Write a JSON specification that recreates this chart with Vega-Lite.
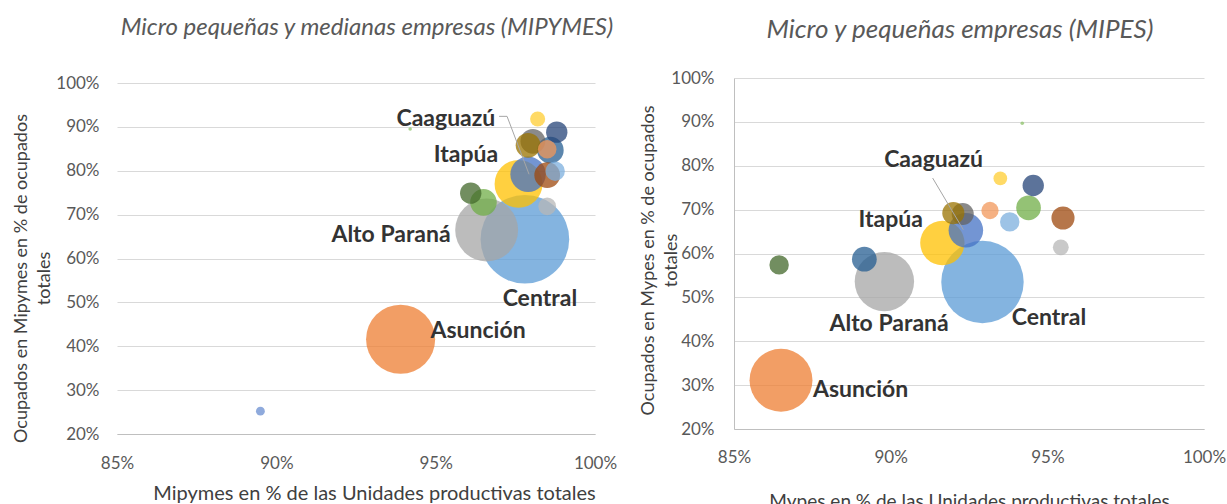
{
  "$schema": "https://vega.github.io/schema/vega-lite/v6.json",
  "padding": {"left": 12, "top": 16, "right": 0, "bottom": 0},
  "background": "white",
  "spacing": 22,
  "config": {
    "font": "Lato",
    "view": {"stroke": null},
    "axis": {
      "labelFont": "Lato", "labelFontSize": 17, "labelColor": "#595959", "labelFlush": false,
      "titleFont": "Lato", "titleFontSize": 18, "titleFontWeight": "normal", "titleColor": "#404040",
      "ticks": false, "domainColor": "#BFBFBF", "gridColor": "#D9D9D9", "labelPadding": 18
    },
    "title": {"font": "Lato", "fontSize": 24, "fontStyle": "italic", "fontWeight": "normal", "color": "#595959", "anchor": "middle"}
  },
  "datasets": {
    "mipymes": [
      {"depto": "Central", "x": 97.8, "y": 64.4, "ocupados": 1000, "orden": 1},
      {"depto": "Asunción", "x": 93.9, "y": 41.6, "ocupados": 608, "orden": 2},
      {"depto": "Alto Paraná", "x": 96.6, "y": 66.5, "ocupados": 504, "orden": 3},
      {"depto": "Itapúa", "x": 97.6, "y": 77.0, "ocupados": 292, "orden": 4},
      {"depto": "Caaguazú", "x": 97.9, "y": 79.2, "ocupados": 160, "orden": 5},
      {"depto": "San Pedro", "x": 96.5, "y": 72.8, "ocupados": 90, "orden": 6},
      {"depto": "Cordillera", "x": 98.6, "y": 84.7, "ocupados": 90, "orden": 7},
      {"depto": "Paraguarí", "x": 98.5, "y": 79.0, "ocupados": 84, "orden": 8},
      {"depto": "Concepción", "x": 98.05, "y": 86.7, "ocupados": 78, "orden": 9},
      {"depto": "Canindeyú", "x": 97.9, "y": 85.8, "ocupados": 78, "orden": 10},
      {"depto": "Amambay", "x": 98.8, "y": 88.8, "ocupados": 58, "orden": 11},
      {"depto": "Guairá", "x": 96.1, "y": 74.9, "ocupados": 58, "orden": 12},
      {"depto": "Caazapá", "x": 98.75, "y": 79.9, "ocupados": 48, "orden": 13},
      {"depto": "Presidente Hayes", "x": 98.5, "y": 84.9, "ocupados": 44, "orden": 14},
      {"depto": "Misiones", "x": 98.5, "y": 71.9, "ocupados": 40, "orden": 15},
      {"depto": "Ñeembucú", "x": 98.2, "y": 91.8, "ocupados": 29, "orden": 16},
      {"depto": "Boquerón", "x": 89.5, "y": 25.2, "ocupados": 10, "orden": 17},
      {"depto": "Alto Paraguay", "x": 94.2, "y": 89.5, "ocupados": 1.6, "orden": 18}
    ],
    "mipes": [
      {"depto": "Central", "x": 92.93, "y": 53.5, "ocupados": 865, "orden": 1},
      {"depto": "Asunción", "x": 86.5, "y": 31.1, "ocupados": 504, "orden": 2},
      {"depto": "Alto Paraná", "x": 89.8, "y": 53.6, "ocupados": 449, "orden": 3},
      {"depto": "Itapúa", "x": 91.65, "y": 62.4, "ocupados": 250, "orden": 4},
      {"depto": "Caaguazú", "x": 92.4, "y": 65.3, "ocupados": 152, "orden": 5},
      {"depto": "San Pedro", "x": 94.4, "y": 70.4, "ocupados": 78, "orden": 6},
      {"depto": "Cordillera", "x": 89.16, "y": 58.7, "ocupados": 78, "orden": 7},
      {"depto": "Paraguarí", "x": 95.5, "y": 68.1, "ocupados": 68, "orden": 8},
      {"depto": "Concepción", "x": 92.3, "y": 69.0, "ocupados": 62, "orden": 9},
      {"depto": "Canindeyú", "x": 92.0, "y": 69.2, "ocupados": 62, "orden": 10},
      {"depto": "Amambay", "x": 94.55, "y": 75.5, "ocupados": 58, "orden": 11},
      {"depto": "Guairá", "x": 86.44, "y": 57.4, "ocupados": 48, "orden": 12},
      {"depto": "Caazapá", "x": 93.8, "y": 67.2, "ocupados": 48, "orden": 13},
      {"depto": "Presidente Hayes", "x": 93.17, "y": 69.8, "ocupados": 38, "orden": 14},
      {"depto": "Misiones", "x": 95.43, "y": 61.4, "ocupados": 32, "orden": 15},
      {"depto": "Ñeembucú", "x": 93.5, "y": 77.1, "ocupados": 24, "orden": 16},
      {"depto": "Alto Paraguay", "x": 94.2, "y": 89.7, "ocupados": 1.6, "orden": 18}
    ],
    "etq_mipymes": [
      {"texto": "Caaguazú", "x": 95.32, "y": 91.75},
      {"texto": "Itapúa", "x": 95.95, "y": 83.55},
      {"texto": "Alto Paraná", "x": 93.6, "y": 65.3},
      {"texto": "Central", "x": 98.27, "y": 50.75},
      {"texto": "Asunción", "x": 96.33, "y": 43.5}
    ],
    "etq_mipes": [
      {"texto": "Caaguazú", "x": 91.37, "y": 81.2},
      {"texto": "Itapúa", "x": 90.0, "y": 67.7},
      {"texto": "Alto Paraná", "x": 89.95, "y": 44.0},
      {"texto": "Central", "x": 95.05, "y": 45.3},
      {"texto": "Asunción", "x": 89.04, "y": 29.0}
    ],
    "guia_mipymes": [
      {"x": 96.99, "y": 92.4, "o": 1},
      {"x": 97.24, "y": 92.4, "o": 2},
      {"x": 97.93, "y": 79.2, "o": 3}
    ],
    "guia_mipes": [
      {"x": 91.34, "y": 77.2, "o": 1},
      {"x": 92.32, "y": 65.4, "o": 2}
    ]
  },
  "hconcat": [
    {
      "width": 478, "height": 356,
      "title": {"text": "Micro pequeñas y medianas empresas (MIPYMES)", "offset": 34, "dx": 11},
      "layer": [
        {
          "mark": {"type": "rule", "color": "#BFBFBF", "strokeWidth": 1},
          "encoding": {
            "x": {"datum": 85, "type": "quantitative"},
            "y": {"datum": 20, "type": "quantitative"},
            "y2": {"datum": 100}
          }
        },
        {
          "data": {"name": "mipymes"},
          "mark": {"type": "point", "shape": "circle", "filled": true, "opacity": 0.75, "strokeWidth": 0},
          "encoding": {
            "x": {"field": "x", "type": "quantitative", "scale": {"domain": [85, 100], "nice": false, "zero": false},
                  "axis": {"values": [85, 90, 95, 100], "labelExpr": "datum.value + '%'", "grid": false, "labelPadding": 21, "title": "Mipymes  en % de las Unidades productivas totales", "titleFontSize": 20, "titlePadding": 12, "titleX": 257}},
            "y": {"field": "y", "type": "quantitative", "scale": {"domain": [20, 101.14], "nice": false, "zero": false},
                  "axis": {"values": [20, 30, 40, 50, 60, 70, 80, 90, 100], "labelExpr": "datum.value + '%'", "grid": true, "domain": false, "title": ["Ocupados en Mipymes en % de ocupados", "totales"], "titleLineHeight": 23, "titlePadding": 2, "titleY": 200}},
            "size": {"field": "ocupados", "type": "quantitative", "scale": {"type": "linear", "domain": [0, 1000], "range": [0, 7854], "zero": true}, "legend": null},
            "color": {"field": "depto", "type": "nominal", "legend": null,
              "scale": {"domain": ["Central", "Asunción", "Alto Paraná", "Itapúa", "Caaguazú", "San Pedro", "Cordillera", "Paraguarí", "Concepción", "Canindeyú", "Amambay", "Guairá", "Caazapá", "Presidente Hayes", "Misiones", "Ñeembucú", "Boquerón", "Alto Paraguay"],
                        "range": ["#5B9BD5", "#ED7D31", "#A5A5A5", "#FFC000", "#4472C4", "#70AD47", "#255E91", "#9E480E", "#636363", "#997300", "#264478", "#43682B", "#7CAFDD", "#F1975A", "#B7B7B7", "#FFCD33", "#698ED0", "#8CC168"]}},
            "order": {"field": "orden", "type": "quantitative"}
          }
        },
        {
          "data": {"name": "guia_mipymes"},
          "mark": {"type": "line", "color": "#A6A6A6", "strokeWidth": 1},
          "encoding": {
            "x": {"field": "x", "type": "quantitative"},
            "y": {"field": "y", "type": "quantitative"},
            "order": {"field": "o", "type": "quantitative"}
          }
        },
        {
          "data": {"name": "etq_mipymes"},
          "mark": {"type": "text", "font": "Lato", "fontSize": 23, "fontWeight": "bold", "color": "#333333", "baseline": "middle", "align": "center"},
          "encoding": {
            "x": {"field": "x", "type": "quantitative"},
            "y": {"field": "y", "type": "quantitative"},
            "text": {"field": "texto", "type": "nominal"}
          }
        }
      ]
    },
    {
      "width": 470, "height": 351,
      "title": {"text": "Micro y pequeñas empresas (MIPES)", "offset": 26, "dx": -9, "fontSize": 26},
      "layer": [
        {
          "data": {"name": "mipes"},
          "mark": {"type": "point", "shape": "circle", "filled": true, "opacity": 0.75, "strokeWidth": 0},
          "encoding": {
            "x": {"field": "x", "type": "quantitative", "scale": {"domain": [85, 100], "nice": false, "zero": false},
                  "axis": {"values": [85, 90, 95, 100], "labelExpr": "datum.value + '%'", "grid": false, "title": "Mypes en % de las Unidades productivas totales", "titleFontSize": 19, "titlePadding": 27, "labelPadding": 20}},
            "y": {"field": "y", "type": "quantitative", "scale": {"domain": [20, 100], "nice": false, "zero": false},
                  "axis": {"values": [20, 30, 40, 50, 60, 70, 80, 90, 100], "labelExpr": "datum.value + '%'", "grid": true, "title": ["Ocupados en Mypes en % de ocupados", "totales"], "titleLineHeight": 23, "titlePadding": -10, "labelPadding": 20, "titleY": 182}},
            "size": {"field": "ocupados", "type": "quantitative", "scale": {"type": "linear", "domain": [0, 1000], "range": [0, 7854], "zero": true}, "legend": null},
            "color": {"field": "depto", "type": "nominal", "legend": null,
              "scale": {"domain": ["Central", "Asunción", "Alto Paraná", "Itapúa", "Caaguazú", "San Pedro", "Cordillera", "Paraguarí", "Concepción", "Canindeyú", "Amambay", "Guairá", "Caazapá", "Presidente Hayes", "Misiones", "Ñeembucú", "Boquerón", "Alto Paraguay"],
                        "range": ["#5B9BD5", "#ED7D31", "#A5A5A5", "#FFC000", "#4472C4", "#70AD47", "#255E91", "#9E480E", "#636363", "#997300", "#264478", "#43682B", "#7CAFDD", "#F1975A", "#B7B7B7", "#FFCD33", "#698ED0", "#8CC168"]}},
            "order": {"field": "orden", "type": "quantitative"}
          }
        },
        {
          "data": {"name": "guia_mipes"},
          "mark": {"type": "line", "color": "#A6A6A6", "strokeWidth": 1},
          "encoding": {
            "x": {"field": "x", "type": "quantitative"},
            "y": {"field": "y", "type": "quantitative"},
            "order": {"field": "o", "type": "quantitative"}
          }
        },
        {
          "data": {"name": "etq_mipes"},
          "mark": {"type": "text", "font": "Lato", "fontSize": 23, "fontWeight": "bold", "color": "#333333", "baseline": "middle", "align": "center"},
          "encoding": {
            "x": {"field": "x", "type": "quantitative"},
            "y": {"field": "y", "type": "quantitative"},
            "text": {"field": "texto", "type": "nominal"}
          }
        }
      ]
    }
  ],
  "resolve": {"scale": {"color": "independent", "size": "independent"}}
}
